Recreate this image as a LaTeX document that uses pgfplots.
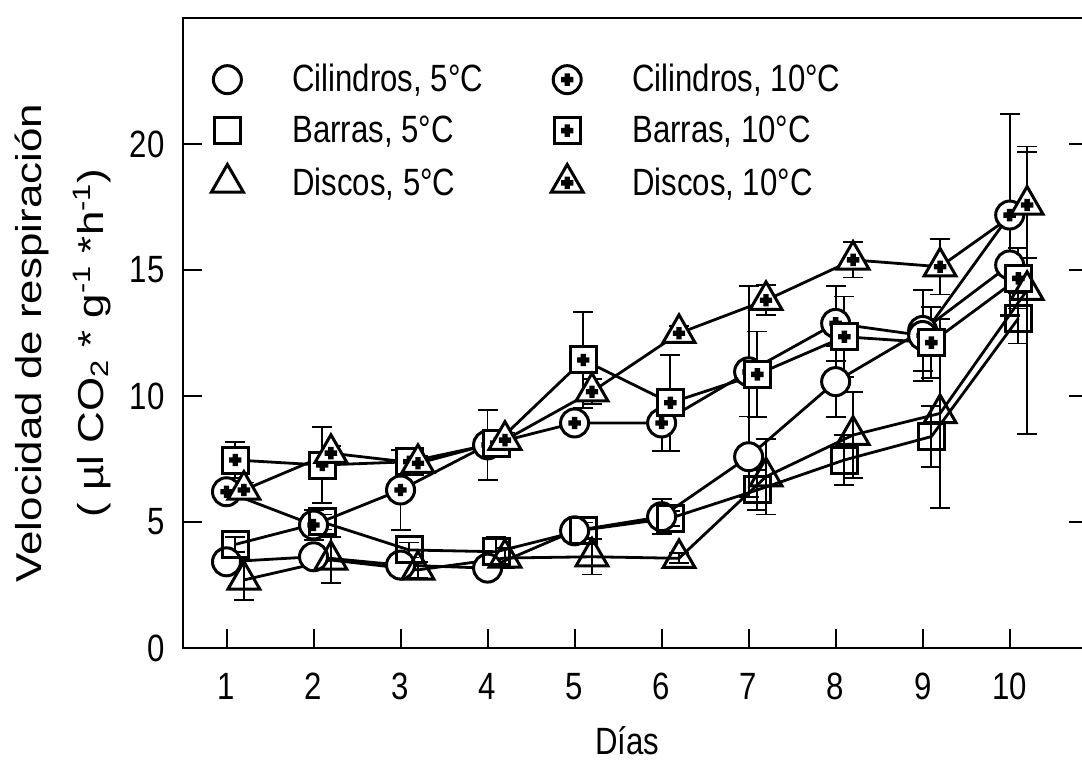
\documentclass[border=0pt]{standalone}
\usepackage{fontspec}
\setmainfont{Liberation Sans}[FakeStretch=0.82]
\newfontfamily\ylabfont{Liberation Sans}[FakeStretch=1.22]
\usepackage{pgfplots}
\pgfplotsset{compat=1.18}

\newcommand{\plusblob}{%
  \pgfscope\pgfsetfillcolor{black}%
  \pgfpathrectangle{\pgfpoint{-3.1pt}{-1.35pt}}{\pgfpoint{6.2pt}{2.7pt}}%
  \pgfpathrectangle{\pgfpoint{-1.35pt}{-3.1pt}}{\pgfpoint{2.7pt}{6.2pt}}%
  \pgfusepathqfill\endpgfscope}
\pgfdeclareplotmark{oplus}{%
  \pgfpathcircle{\pgfpointorigin}{\pgfplotmarksize}%
  \pgfusepathqfillstroke
  \plusblob}
\pgfdeclareplotmark{splus}{%
  \pgfpathrectangle{\pgfpoint{-\pgfplotmarksize}{-\pgfplotmarksize}}{\pgfpoint{2\pgfplotmarksize}{2\pgfplotmarksize}}%
  \pgfusepathqfillstroke
  \plusblob}
\pgfdeclareplotmark{tplus}{%
  \pgfpathmoveto{\pgfqpoint{0pt}{\pgfplotmarksize}}%
  \pgfpathlineto{\pgfqpointpolar{-150}{\pgfplotmarksize}}%
  \pgfpathlineto{\pgfqpointpolar{-30}{\pgfplotmarksize}}%
  \pgfpathclose
  \pgfusepathqfillstroke
  \plusblob}

\pgfplotsset{
  ser/.style={black, line width=1.4pt,
    mark options={fill=white, line width=1.5pt, solid},
    error bars/y dir=both, error bars/y explicit,
    error bars/error bar style={line width=0.9pt},
    error bars/error mark options={line width=0.9pt, mark size=5pt, rotate=90}},
  circ/.style={ser, mark=*, mark size=7pt},
  circp/.style={ser, mark=oplus, mark size=7pt},
  sq/.style={ser, mark=square, mark size=6.5pt},
  sqp/.style={ser, mark=splus, mark size=6.5pt},
  tri/.style={ser, mark=triangle, mark size=9.2pt},
  trip/.style={ser, mark=tplus, mark size=9.2pt},
}

\pgfplotstableread{
x y e
1 3.42 0.3
2 3.62 0.4
3 3.29 0.3
4 3.17 0.3
5 4.65 0.3
6 5.21 0.7
7 7.59 1.6
8 10.57 1.4
9 12.6 1.6
10 15.2 2.0
}\cilfive
\pgfplotstableread{
x y e
1 6.2 0.3
2 4.88 0.6
3 6.27 1.6
4 8.06 1.4
5 8.93 0.3
6 8.93 1.1
7 10.96 3.4
8 12.88 1.5
9 12.4 1.8
10 17.18 4.0
}\cilten
\pgfplotstableread{
x y e
1.1 4.11 0.3
2.1 5.0 0.3
3.1 3.89 0.3
4.1 3.82 0.6
5.1 4.68 0.3
6.1 5.15 0.3
7.1 6.27 0.8
8.1 7.46 1.0
9.1 8.39 1.2
10.1 13.08 1.0
}\barfive
\pgfplotstableread{
x y e
1.1 7.46 0.73
2.1 7.26 1.5
3.1 7.39 0.4
4.1 8.13 0.4
5.1 11.43 1.9
6.1 9.73 1.9
7.1 10.86 1.7
8.1 12.35 1.6
9.1 12.12 1.4
10.1 14.67 1.2
}\barten
\pgfplotstableread{
x y e
1.2 2.70 0.8
2.2 3.49 0.9
3.2 3.10 0.3
4.2 3.57 0.4
5.2 3.62 0.7
6.2 3.56 0.2
7.2 6.8 1.5
8.2 8.45 1.7
9.2 9.31 3.75
10.2 14.2 5.7
}\disfive
\pgfplotstableread{
x y e
1.2 6.27 0.3
2.2 7.73 0.3
3.2 7.33 0.3
4.2 8.25 0.3
5.2 10.17 0.5
6.2 12.49 0.3
7.2 13.8 0.6
8.2 15.4 0.7
9.2 15.13 1.1
10.2 17.58 2.1
}\disten

\begin{document}
\begin{tikzpicture}
\begin{axis}[
  scale only axis, width=452.5pt, height=315pt,
  xmin=0.5, xmax=10.9, ymin=0, ymax=25,
  xtick={1,2,...,10}, ytick={0,5,10,15,20},
  xtick pos=left, ytick pos=both, yticklabel pos=left,
  tick align=inside,
  major tick length=9.5pt,
  every tick/.style={black, line width=1pt},
  axis line style={line width=1.2pt},
  /pgf/number format/assume math mode=true,
  tick label style={font=\fontsize{19}{22}\selectfont, inner sep=0pt},
  xticklabel style={yshift=-12.5pt},
  yticklabel style={xshift=-9pt},
  xlabel={Días},
  xlabel style={font=\fontsize{19}{22}\selectfont, inner sep=0pt, at={(axis description cs:0.491,0)}, anchor=north, yshift=-39pt},
  ylabel={Velocidad de respiración\\( µl CO\textsubscript{2} * g\textsuperscript{-1} *h\textsuperscript{-1})},
  ylabel style={font=\ylabfont\fontsize{18}{31}\selectfont, align=center, inner sep=0pt, at={(axis description cs:-0.133,0.484)}, anchor=center},
  legend columns=2,
  legend cell align=left,
  legend style={draw=none, fill=none, at={(0,1)}, anchor=north west, xshift=14pt, yshift=-22pt, inner sep=0pt, font=\fontsize{19}{22}\selectfont, nodes={inner sep=1pt}, row sep=8.5pt,
    /tikz/every odd column/.append style={column sep=23.5pt},
    /tikz/column 3/.append style={column sep=18pt},
    /tikz/every even column/.append style={column sep=33pt}},
  legend image code/.code={\path[draw=none,fill=none] (-8pt,-8pt) rectangle (8pt,8pt); \draw[#1] plot coordinates {(0pt,0pt)};},
]
\addplot[circ] table[x=x,y=y,y error=e]{\cilfive};
\addlegendentry{Cilindros, 5°C}
\addplot[circp] table[x=x,y=y,y error=e]{\cilten};
\addlegendentry{Cilindros, 10°C}
\addplot[sq] table[x=x,y=y,y error=e]{\barfive};
\addlegendentry{Barras, 5°C}
\addplot[sqp] table[x=x,y=y,y error=e]{\barten};
\addlegendentry{Barras, 10°C}
\addplot[tri] table[x=x,y=y,y error=e]{\disfive};
\addlegendentry{Discos, 5°C}
\addplot[trip] table[x=x,y=y,y error=e]{\disten};
\addlegendentry{Discos, 10°C}
\end{axis}
\pgfresetboundingbox
\useasboundingbox (-91.5pt,-61pt) rectangle (449.5pt,324pt);
\end{tikzpicture}
\end{document}
